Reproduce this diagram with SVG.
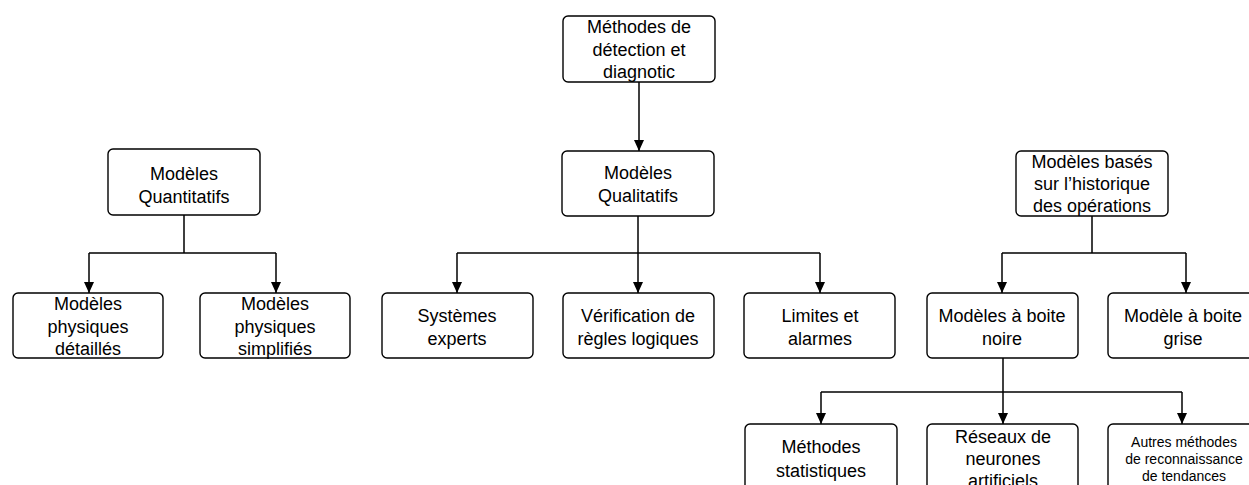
<svg xmlns="http://www.w3.org/2000/svg" width="1249" height="485" viewBox="0 0 1249 485">
  <style>
    .box { fill: #ffffff; stroke: #000000; stroke-width: 1.4; }
    .lbl { font-family: "Liberation Sans", Arial, sans-serif; font-size: 18px; fill: #000000; text-anchor: middle; }
    .sm { font-size: 14px; }
    .wire { fill: none; stroke: #000000; stroke-width: 1.5; }
    .arr { marker-end: url(#head); }
  </style>
  <defs>
    <!-- filled arrowhead, tip placed on the end of the line -->
    <marker id="head" markerUnits="userSpaceOnUse" markerWidth="11" markerHeight="10" refX="11" refY="5" orient="auto" viewBox="0 0 11 10">
      <path d="M0,0 L11,5 L0,10 Z" fill="#000000"/>
    </marker>
  </defs>
  <rect width="1249" height="485" fill="#ffffff"/>

  <g id="connectors">
    <path class="wire arr" d="M639,82 V151"/>

    <!-- quantitative branch -->
    <path class="wire" d="M184,215 V253 M89,253 H276"/>
    <path class="wire arr" d="M89,253 V293"/>
    <path class="wire arr" d="M276,253 V293"/>

    <!-- qualitative branch -->
    <path class="wire" d="M457,253 H820"/>
    <path class="wire arr" d="M638,216 V293"/>
    <path class="wire arr" d="M457,253 V293"/>
    <path class="wire arr" d="M820,253 V293"/>

    <!-- history-based branch -->
    <path class="wire" d="M1092,216 V253 M1002,253 H1186"/>
    <path class="wire arr" d="M1002,253 V293"/>
    <path class="wire arr" d="M1186,253 V293"/>

    <!-- black-box branch -->
    <path class="wire" d="M821,392 H1182"/>
    <path class="wire arr" d="M1003,358 V424"/>
    <path class="wire arr" d="M821,392 V424"/>
    <path class="wire arr" d="M1182,392 V424"/>
  </g>

  <g id="n-root">
    <rect class="box" x="563" y="16" width="152" height="66" rx="5"/>
    <text class="lbl" x="639" y="33">Méthodes de</text>
    <text class="lbl" x="639" y="56">détection et</text>
    <text class="lbl" x="639" y="78">diagnotic</text>
  </g>

  <g id="n-quanti">
    <rect class="box" x="108" y="149" width="152" height="66" rx="5"/>
    <text class="lbl" x="184" y="180">Modèles</text>
    <text class="lbl" x="184" y="203">Quantitatifs</text>
  </g>

  <g id="n-quali">
    <rect class="box" x="562" y="151" width="152" height="65" rx="5"/>
    <text class="lbl" x="638" y="179">Modèles</text>
    <text class="lbl" x="638" y="202">Qualitatifs</text>
  </g>

  <g id="n-histo">
    <rect class="box" x="1016" y="151" width="152" height="65" rx="5"/>
    <text class="lbl" x="1092" y="168">Modèles basés</text>
    <text class="lbl" x="1092" y="190">sur l’historique</text>
    <text class="lbl" x="1092" y="212">des opérations</text>
  </g>

  <g id="n-detail">
    <rect class="box" x="13" y="293" width="150" height="65" rx="5"/>
    <text class="lbl" x="88" y="310">Modèles</text>
    <text class="lbl" x="88" y="333">physiques</text>
    <text class="lbl" x="88" y="355">détaillés</text>
  </g>

  <g id="n-simpl">
    <rect class="box" x="200" y="293" width="150" height="65" rx="5"/>
    <text class="lbl" x="275" y="310">Modèles</text>
    <text class="lbl" x="275" y="333">physiques</text>
    <text class="lbl" x="275" y="355">simplifiés</text>
  </g>

  <g id="n-experts">
    <rect class="box" x="382" y="293" width="151" height="65" rx="5"/>
    <text class="lbl" x="457" y="322">Systèmes</text>
    <text class="lbl" x="457" y="345">experts</text>
  </g>

  <g id="n-regles">
    <rect class="box" x="563" y="293" width="151" height="65" rx="5"/>
    <text class="lbl" x="638" y="322">Vérification de</text>
    <text class="lbl" x="638" y="345">règles logiques</text>
  </g>

  <g id="n-limites">
    <rect class="box" x="744" y="293" width="151" height="65" rx="5"/>
    <text class="lbl" x="820" y="322">Limites et</text>
    <text class="lbl" x="820" y="345">alarmes</text>
  </g>

  <g id="n-noire">
    <rect class="box" x="927" y="293" width="151" height="65" rx="5"/>
    <text class="lbl" x="1002" y="322">Modèles à boite</text>
    <text class="lbl" x="1002" y="345">noire</text>
  </g>

  <g id="n-grise">
    <rect class="box" x="1108" y="293" width="151" height="65" rx="5"/>
    <text class="lbl" x="1183" y="322">Modèle à boite</text>
    <text class="lbl" x="1183" y="345">grise</text>
  </g>

  <g id="n-stats">
    <rect class="box" x="745" y="424" width="152" height="66" rx="5"/>
    <text class="lbl" x="821" y="453">Méthodes</text>
    <text class="lbl" x="821" y="477">statistiques</text>
  </g>

  <g id="n-neurones">
    <rect class="box" x="927" y="424" width="151" height="66" rx="5"/>
    <text class="lbl" x="1003" y="443">Réseaux de</text>
    <text class="lbl" x="1003" y="465">neurones</text>
    <text class="lbl" x="1003" y="487">artificiels</text>
  </g>

  <g id="n-autres">
    <rect class="box" x="1108" y="424" width="151" height="66" rx="5"/>
    <text class="lbl sm" x="1184" y="447">Autres méthodes</text>
    <text class="lbl sm" x="1184" y="464">de reconnaissance</text>
    <text class="lbl sm" x="1184" y="481">de tendances</text>
  </g>
</svg>
